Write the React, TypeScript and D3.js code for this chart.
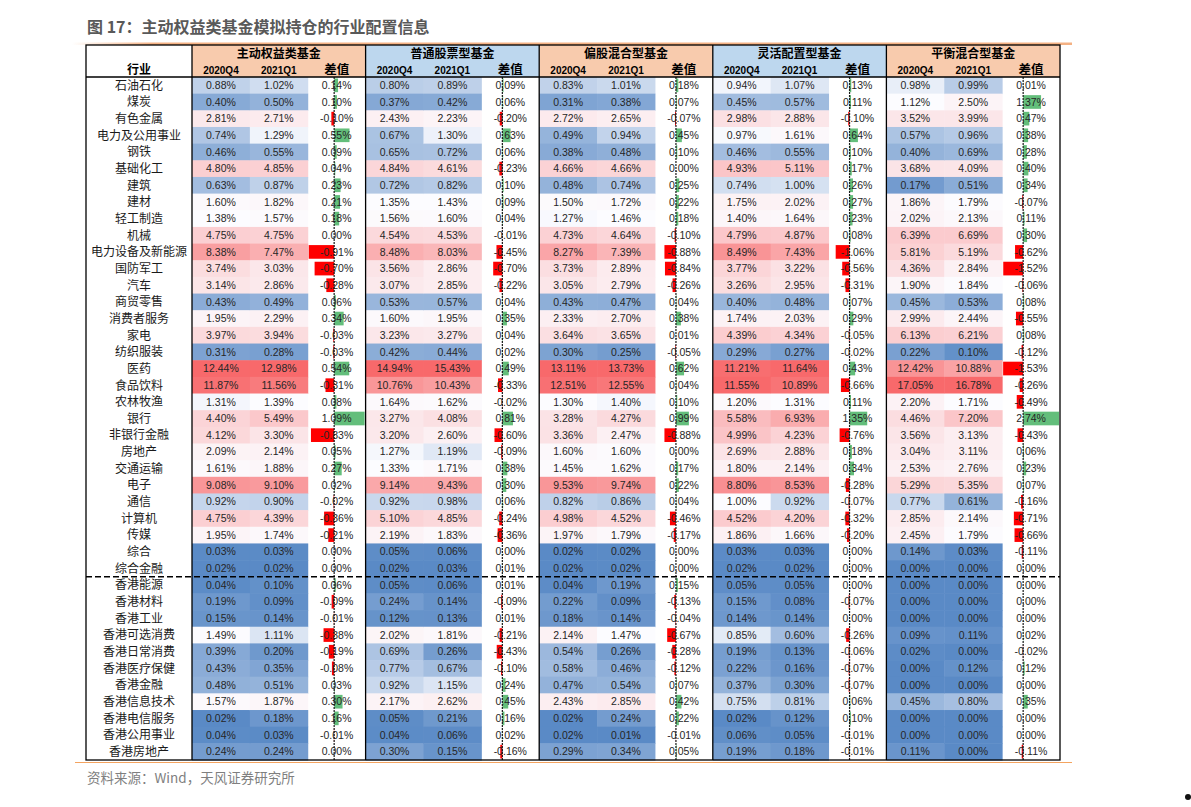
import React from 'react';
import * as d3 from 'd3';

const industries = ['石油石化','煤炭','有色金属','电力及公用事业','钢铁','基础化工','建筑','建材','轻工制造','机械','电力设备及新能源','国防军工','汽车','商贸零售','消费者服务','家电','纺织服装','医药','食品饮料','农林牧渔','银行','非银行金融','房地产','交通运输','电子','通信','计算机','传媒','综合','综合金融','香港能源','香港材料','香港工业','香港可选消费','香港日常消费','香港医疗保健','香港金融','香港信息技术','香港电信服务','香港公用事业','香港房地产'];

const groupNames = ['主动权益类基金','普通股票型基金','偏股混合型基金','灵活配置型基金','平衡混合型基金'];
const subHeaders = ['2020Q4','2021Q1','差值'];

const activeQ4 = [0.88,0.40,2.81,0.74,0.46,4.80,0.63,1.60,1.38,4.75,8.38,3.74,3.14,0.43,1.95,3.97,0.31,12.44,11.87,1.31,4.40,4.12,2.09,1.61,9.08,0.92,4.75,1.95,0.03,0.02,0.04,0.19,0.15,1.49,0.39,0.43,0.48,1.57,0.02,0.04,0.24];
const activeQ1 = [1.02,0.50,2.71,1.29,0.55,4.85,0.87,1.82,1.57,4.75,7.47,3.03,2.86,0.49,2.29,3.94,0.28,12.98,11.56,1.39,5.49,3.30,2.14,1.88,9.10,0.90,4.39,1.74,0.03,0.02,0.10,0.09,0.14,1.11,0.20,0.35,0.51,1.87,0.18,0.03,0.24];
const activeDiff = [0.14,0.10,-0.10,0.55,0.09,0.04,0.23,0.21,0.18,0.00,-0.91,-0.70,-0.28,0.06,0.34,-0.03,-0.03,0.54,-0.31,0.08,1.09,-0.83,0.05,0.27,0.02,-0.02,-0.36,-0.21,0.00,0.00,0.06,-0.09,-0.01,-0.38,-0.19,-0.08,0.03,0.30,0.16,-0.01,0.00];

const stockQ4 = [0.80,0.37,2.43,0.67,0.65,4.84,0.72,1.35,1.56,4.54,8.48,3.56,3.07,0.53,1.60,3.23,0.42,14.94,10.76,1.64,3.27,3.20,1.27,1.33,9.14,0.92,5.10,2.19,0.05,0.02,0.05,0.24,0.12,2.02,0.69,0.77,0.92,2.17,0.05,0.04,0.30];
const stockQ1 = [0.89,0.42,2.23,1.30,0.72,4.61,0.82,1.43,1.60,4.53,8.03,2.86,2.85,0.57,1.95,3.27,0.44,15.43,10.43,1.62,4.08,2.60,1.19,1.71,9.43,0.98,4.85,1.83,0.06,0.03,0.06,0.14,0.13,1.81,0.26,0.67,1.15,2.62,0.21,0.06,0.15];
const stockDiff = [0.09,0.06,-0.20,0.63,0.06,-0.23,0.10,0.09,0.04,-0.01,-0.45,-0.70,-0.22,0.04,0.35,0.04,0.02,0.49,-0.33,-0.02,0.81,-0.60,-0.09,0.38,0.30,0.06,-0.24,-0.36,0.00,0.01,0.01,-0.09,0.01,-0.21,-0.43,-0.10,0.24,0.45,0.16,0.02,-0.16];

const mixedQ4 = [0.83,0.31,2.72,0.49,0.38,4.66,0.48,1.50,1.27,4.73,8.27,3.73,3.05,0.43,2.33,3.64,0.30,13.11,12.51,1.30,3.28,3.36,1.60,1.45,9.53,0.82,4.98,1.97,0.02,0.02,0.04,0.22,0.18,2.14,0.54,0.58,0.47,2.43,0.02,0.02,0.29];
const mixedQ1 = [1.01,0.38,2.65,0.94,0.48,4.66,0.74,1.72,1.46,4.64,7.39,2.89,2.79,0.47,2.70,3.65,0.25,13.73,12.55,1.40,4.27,2.47,1.60,1.62,9.74,0.86,4.52,1.79,0.02,0.02,0.19,0.09,0.14,1.47,0.26,0.46,0.54,2.85,0.24,0.01,0.34];
const mixedDiff = [0.18,0.07,-0.07,0.45,0.10,0.00,0.25,0.22,0.18,-0.10,-0.88,-0.84,-0.26,0.04,0.38,0.01,-0.05,0.62,0.04,0.10,0.99,-0.88,0.00,0.17,0.22,0.04,-0.46,-0.17,0.00,0.00,0.15,-0.13,-0.04,-0.67,-0.28,-0.12,0.07,0.42,0.22,-0.01,0.05];

const flexQ4 = [0.94,0.45,2.98,0.97,0.46,4.93,0.74,1.75,1.40,4.79,8.49,3.77,3.26,0.40,1.74,4.39,0.29,11.21,11.55,1.20,5.58,4.99,2.69,1.80,8.80,1.00,4.52,1.86,0.03,0.02,0.05,0.15,0.14,0.85,0.19,0.22,0.37,0.75,0.02,0.06,0.19];
const flexQ1 = [1.07,0.57,2.88,1.61,0.55,5.11,1.00,2.02,1.64,4.87,7.43,3.22,2.95,0.48,2.03,4.34,0.27,11.64,10.89,1.31,6.93,4.23,2.88,2.14,8.53,0.92,4.20,1.66,0.03,0.02,0.05,0.08,0.14,0.60,0.13,0.16,0.30,0.81,0.12,0.05,0.18];
const flexDiff = [0.13,0.11,-0.10,0.64,0.10,0.17,0.26,0.27,0.23,0.08,-1.06,-0.56,-0.31,0.07,0.29,-0.05,-0.02,0.43,-0.66,0.11,1.35,-0.76,0.18,0.34,-0.28,-0.07,-0.32,-0.20,0.00,0.00,0.00,-0.07,0.00,-0.26,-0.06,-0.07,-0.07,0.06,0.10,-0.01,-0.01];

const balQ4 = [0.98,1.12,3.52,0.57,0.40,3.68,0.17,1.86,2.02,6.39,5.81,4.36,1.90,0.45,2.99,6.13,0.22,12.42,17.05,2.20,4.46,3.56,3.04,2.53,5.29,0.77,2.85,2.45,0.14,0.00,0.00,0.00,0.00,0.09,0.02,0.00,0.00,0.45,0.00,0.00,0.11];
const balQ1 = [0.99,2.50,3.99,0.96,0.69,4.09,0.51,1.79,2.13,6.69,5.19,2.84,1.84,0.53,2.44,6.21,0.10,10.88,16.78,1.71,7.20,3.13,3.11,2.76,5.35,0.61,2.14,1.79,0.03,0.00,0.00,0.00,0.00,0.11,0.00,0.12,0.00,0.80,0.00,0.00,0.00];
const balDiff = [0.01,1.37,0.47,0.38,0.28,0.40,0.34,-0.07,0.11,0.30,-0.62,-1.52,-0.06,0.08,-0.55,0.08,-0.12,-1.53,-0.26,-0.49,2.74,-0.43,0.06,0.23,0.07,-0.16,-0.71,-0.66,-0.11,0.00,0.00,0.00,0.00,0.02,-0.02,0.12,0.00,0.35,0.00,0.00,-0.11];

const groupQ4 = [activeQ4, stockQ4, mixedQ4, flexQ4, balQ4];
const groupQ1 = [activeQ1, stockQ1, mixedQ1, flexQ1, balQ1];
const groupDiff = [activeDiff, stockDiff, mixedDiff, flexDiff, balDiff];

const headerColors = ['#F8CBAD', '#BDD7EE', '#F8CBAD', '#BDD7EE', '#F8CBAD'];

const W = 1191;
const H = 807;
const tableLeft = 86;
const catRight = 192;
const tableRight = 1060;
const tableTop = 45;
const headMid = 62;
const headBottom = 77;
const tableBottom = 760;

const numFont = '"Liberation Sans", Arial, sans-serif';
const cjkFont = '"Noto Sans CJK SC", "Noto Sans", sans-serif';

function heatScale(vals: number[]) {
  const sorted = [...vals].sort((a, b) => a - b);
  const mn = sorted[0];
  const mx = sorted[sorted.length - 1];
  const md = d3.quantileSorted(sorted, 0.5) as number;
  return d3
    .scaleLinear<string>()
    .domain([mn, md, mx])
    .range(['#5A8AC6', '#FCFCFF', '#F8696B'])
    .interpolate(d3.interpolateRgb)
    .clamp(true);
}

const fmt = (v: number) => v.toFixed(2) + '%';

export default function App() {
  const y = d3.scaleBand<string>().domain(industries).range([headBottom, tableBottom]).paddingInner(0);
  const gx = d3.scaleBand<string>().domain(groupNames).range([catRight, tableRight]);
  const sx = d3.scaleBand<string>().domain(subHeaders).range([0, gx.bandwidth()]);
  const rh = y.bandwidth();

  const otherDiffs = ([] as number[]).concat(stockDiff, mixedDiff, flexDiff, balDiff);
  const ext1 = d3.extent(activeDiff) as [number, number];
  const ext2 = d3.extent(otherDiffs) as [number, number];

  const sepY = y('香港能源') as number;

  return (
    <svg width={W} height={H} style={{ position: 'absolute', left: 0, top: 0, background: '#fff' }}>
      <defs>
        <linearGradient id="titleLine" x1="0" x2="1" y1="0" y2="0">
          <stop offset="0" stopColor="#F4B183" stopOpacity={0} />
          <stop offset="0.08" stopColor="#F4B183" stopOpacity={1} />
          <stop offset="1" stopColor="#F4B183" stopOpacity={1} />
        </linearGradient>
      </defs>
      <rect x={0} y={0} width={W} height={H} fill="#fff" />
      <text x={87} y={33} fontFamily={cjkFont} fontSize={16} fontWeight={700} fill="#595959">
        图 17：主动权益类基金模拟持仓的行业配置信息
      </text>
      <rect x={72} y={42.5} width={1000} height={2.5} fill="url(#titleLine)" />

      {/* header backgrounds */}
      {groupNames.map((g, gi) => (
        <rect key={'hb' + g} x={gx(g)} y={tableTop} width={gx.bandwidth()} height={headBottom - tableTop} fill={headerColors[gi]} />
      ))}

      {/* data cells */}
      {groupNames.map((g, gi) => {
        const x0 = gx(g) as number;
        const cols = [groupQ4[gi], groupQ1[gi]];
        const diffs = groupDiff[gi];
        const ext = gi === 0 ? ext1 : ext2;
        const dx0 = x0 + (sx('差值') as number);
        const bx = d3.scaleLinear().domain(ext).range([dx0 + 1, dx0 + sx.bandwidth() - 1]);
        const zeroX = bx(0);
        return (
          <g key={'g' + g}>
            {cols.map((vals, ci) => {
              const color = heatScale(vals);
              const cx = x0 + (sx(subHeaders[ci]) as number);
              return vals.map((v, ri) => (
                <g key={'c' + ci + '-' + ri}>
                  <rect x={cx} y={y(industries[ri])} width={sx.bandwidth() + 0.5} height={rh + 0.5} fill={color(v)} />
                  <text x={cx + sx.bandwidth() / 2} y={(y(industries[ri]) as number) + rh / 2} dy="0.35em" textAnchor="middle" fontFamily={numFont} fontSize={10.5} fill="#262626">
                    {fmt(v)}
                  </text>
                </g>
              ));
            })}
            {diffs.map((v, ri) => {
              const yy = y(industries[ri]) as number;
              const x1 = Math.min(bx(v), zeroX);
              const w = Math.abs(bx(v) - zeroX);
              return (
                <rect key={'b' + ri} x={x1} y={yy + 1.5} width={w} height={rh - 3} fill={v < 0 ? '#FF0000' : '#63BE7B'} />
              );
            })}
            {diffs.map((v, ri) => (
              <text key={'dt' + ri} x={dx0 + sx.bandwidth() / 2} y={(y(industries[ri]) as number) + rh / 2} dy="0.35em" textAnchor="middle" fontFamily={numFont} fontSize={10.5} fill="#262626">
                {fmt(v)}
              </text>
            ))}
            <line x1={zeroX} x2={zeroX} y1={headBottom} y2={tableBottom} stroke="#1a1a1a" strokeWidth={1.2} strokeDasharray="2,1" />
          </g>
        );
      })}

      {/* header texts */}
      <text x={(tableLeft + catRight) / 2} y={70} dy="0.35em" textAnchor="middle" fontFamily={cjkFont} fontSize={12} fontWeight={700} fill="#000">行业</text>
      {groupNames.map((g) => {
        const x0 = gx(g) as number;
        return (
          <g key={'ht' + g}>
            <text x={x0 + gx.bandwidth() / 2} y={53.5} dy="0.35em" textAnchor="middle" fontFamily={cjkFont} fontSize={12} fontWeight={700} fill="#000">{g}</text>
            {subHeaders.map((s) => (
              <text key={s} x={x0 + (sx(s) as number) + sx.bandwidth() / 2} y={70} dy="0.35em" textAnchor="middle"
                fontFamily={s === '差值' ? cjkFont : numFont} fontSize={s === '差值' ? 12.5 : 10} fontWeight={700} fill="#000">{s}</text>
            ))}
          </g>
        );
      })}

      {/* industry labels */}
      {industries.map((c) => (
        <text key={'l' + c} x={(tableLeft + catRight) / 2} y={(y(c) as number) + rh / 2} dy="0.36em" textAnchor="middle" fontFamily={cjkFont} fontSize={12} fill="#1a1a1a">{c}</text>
      ))}

      {/* borders */}
      <rect x={tableLeft} y={tableTop} width={tableRight - tableLeft} height={tableBottom - tableTop} fill="none" stroke="#000" strokeWidth={1.3} />
      <line x1={tableLeft} x2={tableRight} y1={headBottom} y2={headBottom} stroke="#000" strokeWidth={1.3} />
      <line x1={catRight} x2={catRight} y1={tableTop} y2={tableBottom} stroke="#000" strokeWidth={1.3} />
      {groupNames.slice(1).map((g) => (
        <line key={'v' + g} x1={gx(g)} x2={gx(g)} y1={tableTop} y2={tableBottom} stroke="#000" strokeWidth={1.3} />
      ))}
      <line x1={tableLeft} x2={tableRight} y1={sepY} y2={sepY} stroke="#000" strokeWidth={1.6} strokeDasharray="6,3" />

      {/* footer */}
      <line x1={75} x2={1072} y1={762.5} y2={762.5} stroke="#F4A460" strokeWidth={1.2} />
      <text x={87} y={778} dy="0.35em" fontFamily={cjkFont} fontSize={13.5} fill="#7F7F7F">资料来源：Wind，天风证券研究所</text>
      <circle cx={1188} cy={797} r={3} fill="#111" />
    </svg>
  );
}
